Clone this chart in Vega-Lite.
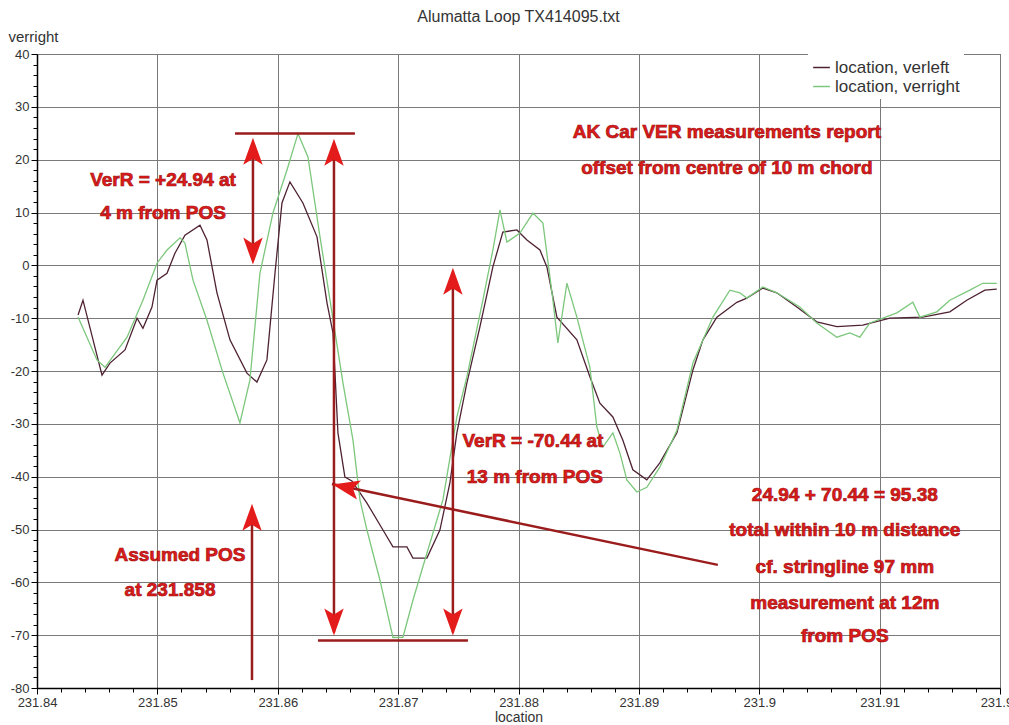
{
  "$schema": "https://vega.github.io/schema/vega-lite/v6.json",
  "width": 963,
  "height": 634,
  "autosize": {"type": "none"},
  "padding": {"left": 37, "top": 54, "right": 9, "bottom": 37},
  "background": "white",
  "title": {"text": "Alumatta Loop TX414095.txt", "fontSize": 16, "fontWeight": "normal", "font": "Liberation Sans", "color": "#333333", "anchor": "middle", "offset": 4},
  "config": {"view": {"stroke": "#333333"}, "font": "Liberation Sans"},
  "datasets": {
    "curves": [
      {"location": 231.84341, "value": -9.4, "series": "location, verleft"},
      {"location": 231.84382, "value": -6.6, "series": "location, verleft"},
      {"location": 231.8454, "value": -20.8, "series": "location, verleft"},
      {"location": 231.84606, "value": -18.5, "series": "location, verleft"},
      {"location": 231.84731, "value": -16.0, "series": "location, verleft"},
      {"location": 231.84831, "value": -10.0, "series": "location, verleft"},
      {"location": 231.8488, "value": -11.9, "series": "location, verleft"},
      {"location": 231.84955, "value": -7.9, "series": "location, verleft"},
      {"location": 231.84997, "value": -2.8, "series": "location, verleft"},
      {"location": 231.8508, "value": -1.5, "series": "location, verleft"},
      {"location": 231.85146, "value": 2.3, "series": "location, verleft"},
      {"location": 231.85229, "value": 5.7, "series": "location, verleft"},
      {"location": 231.85354, "value": 7.6, "series": "location, verleft"},
      {"location": 231.85412, "value": 4.8, "series": "location, verleft"},
      {"location": 231.85495, "value": -5.2, "series": "location, verleft"},
      {"location": 231.85603, "value": -14.1, "series": "location, verleft"},
      {"location": 231.85744, "value": -20.4, "series": "location, verleft"},
      {"location": 231.85827, "value": -22.1, "series": "location, verleft"},
      {"location": 231.8591, "value": -17.9, "series": "location, verleft"},
      {"location": 231.85977, "value": -1.5, "series": "location, verleft"},
      {"location": 231.86035, "value": 11.8, "series": "location, verleft"},
      {"location": 231.86101, "value": 15.8, "series": "location, verleft"},
      {"location": 231.86209, "value": 11.8, "series": "location, verleft"},
      {"location": 231.86326, "value": 5.4, "series": "location, verleft"},
      {"location": 231.86409, "value": -7.1, "series": "location, verleft"},
      {"location": 231.86459, "value": -12.8, "series": "location, verleft"},
      {"location": 231.865, "value": -31.7, "series": "location, verleft"},
      {"location": 231.86558, "value": -40.1, "series": "location, verleft"},
      {"location": 231.86616, "value": -40.8, "series": "location, verleft"},
      {"location": 231.86741, "value": -45.0, "series": "location, verleft"},
      {"location": 231.86874, "value": -50.1, "series": "location, verleft"},
      {"location": 231.86957, "value": -53.3, "series": "location, verleft"},
      {"location": 231.87073, "value": -53.3, "series": "location, verleft"},
      {"location": 231.87123, "value": -55.4, "series": "location, verleft"},
      {"location": 231.87239, "value": -55.4, "series": "location, verleft"},
      {"location": 231.87347, "value": -50.1, "series": "location, verleft"},
      {"location": 231.8743, "value": -41.2, "series": "location, verleft"},
      {"location": 231.87488, "value": -31.7, "series": "location, verleft"},
      {"location": 231.87571, "value": -22.3, "series": "location, verleft"},
      {"location": 231.87679, "value": -11.7, "series": "location, verleft"},
      {"location": 231.87787, "value": -0.3, "series": "location, verleft"},
      {"location": 231.8787, "value": 6.3, "series": "location, verleft"},
      {"location": 231.87987, "value": 6.7, "series": "location, verleft"},
      {"location": 231.8807, "value": 4.8, "series": "location, verleft"},
      {"location": 231.88178, "value": 2.9, "series": "location, verleft"},
      {"location": 231.88236, "value": -0.3, "series": "location, verleft"},
      {"location": 231.88319, "value": -9.8, "series": "location, verleft"},
      {"location": 231.88485, "value": -14.1, "series": "location, verleft"},
      {"location": 231.88593, "value": -21.1, "series": "location, verleft"},
      {"location": 231.88676, "value": -26.1, "series": "location, verleft"},
      {"location": 231.88784, "value": -28.7, "series": "location, verleft"},
      {"location": 231.88867, "value": -33.1, "series": "location, verleft"},
      {"location": 231.8895, "value": -38.7, "series": "location, verleft"},
      {"location": 231.89066, "value": -40.6, "series": "location, verleft"},
      {"location": 231.89174, "value": -37.4, "series": "location, verleft"},
      {"location": 231.89316, "value": -31.7, "series": "location, verleft"},
      {"location": 231.89449, "value": -19.8, "series": "location, verleft"},
      {"location": 231.89532, "value": -14.1, "series": "location, verleft"},
      {"location": 231.89648, "value": -9.8, "series": "location, verleft"},
      {"location": 231.89814, "value": -7.0, "series": "location, verleft"},
      {"location": 231.89897, "value": -6.2, "series": "location, verleft"},
      {"location": 231.9003, "value": -4.3, "series": "location, verleft"},
      {"location": 231.90146, "value": -5.2, "series": "location, verleft"},
      {"location": 231.90312, "value": -7.9, "series": "location, verleft"},
      {"location": 231.90478, "value": -10.7, "series": "location, verleft"},
      {"location": 231.90645, "value": -11.6, "series": "location, verleft"},
      {"location": 231.9086, "value": -11.3, "series": "location, verleft"},
      {"location": 231.91085, "value": -10.0, "series": "location, verleft"},
      {"location": 231.91359, "value": -9.8, "series": "location, verleft"},
      {"location": 231.91583, "value": -8.8, "series": "location, verleft"},
      {"location": 231.91724, "value": -6.6, "series": "location, verleft"},
      {"location": 231.91874, "value": -4.7, "series": "location, verleft"},
      {"location": 231.91973, "value": -4.5, "series": "location, verleft"},
      {"location": 231.84341, "value": -9.8, "series": "location, verright"},
      {"location": 231.84498, "value": -17.9, "series": "location, verright"},
      {"location": 231.84565, "value": -19.3, "series": "location, verright"},
      {"location": 231.84748, "value": -13.6, "series": "location, verright"},
      {"location": 231.8488, "value": -6.6, "series": "location, verright"},
      {"location": 231.84997, "value": 0.4, "series": "location, verright"},
      {"location": 231.8508, "value": 2.9, "series": "location, verright"},
      {"location": 231.85188, "value": 5.2, "series": "location, verright"},
      {"location": 231.85229, "value": 4.2, "series": "location, verright"},
      {"location": 231.85296, "value": -2.8, "series": "location, verright"},
      {"location": 231.85412, "value": -10.4, "series": "location, verright"},
      {"location": 231.85545, "value": -20.4, "series": "location, verright"},
      {"location": 231.85686, "value": -29.8, "series": "location, verright"},
      {"location": 231.85769, "value": -21.7, "series": "location, verright"},
      {"location": 231.85852, "value": -1.5, "series": "location, verright"},
      {"location": 231.8596, "value": 9.9, "series": "location, verright"},
      {"location": 231.86076, "value": 18.0, "series": "location, verright"},
      {"location": 231.86168, "value": 24.94, "series": "location, verright"},
      {"location": 231.86251, "value": 20.5, "series": "location, verright"},
      {"location": 231.86351, "value": 5.4, "series": "location, verright"},
      {"location": 231.86434, "value": -6.6, "series": "location, verright"},
      {"location": 231.86542, "value": -22.3, "series": "location, verright"},
      {"location": 231.86625, "value": -33.1, "series": "location, verright"},
      {"location": 231.86683, "value": -44.4, "series": "location, verright"},
      {"location": 231.86741, "value": -50.1, "series": "location, verright"},
      {"location": 231.86849, "value": -59.6, "series": "location, verright"},
      {"location": 231.86957, "value": -70.44, "series": "location, verright"},
      {"location": 231.8704, "value": -70.4, "series": "location, verright"},
      {"location": 231.87123, "value": -63.4, "series": "location, verright"},
      {"location": 231.87239, "value": -54.5, "series": "location, verright"},
      {"location": 231.87372, "value": -44.4, "series": "location, verright"},
      {"location": 231.87488, "value": -28.7, "series": "location, verright"},
      {"location": 231.87571, "value": -21.1, "series": "location, verright"},
      {"location": 231.87704, "value": -6.6, "series": "location, verright"},
      {"location": 231.87787, "value": 2.9, "series": "location, verright"},
      {"location": 231.87846, "value": 10.5, "series": "location, verright"},
      {"location": 231.87904, "value": 4.4, "series": "location, verright"},
      {"location": 231.88012, "value": 6.1, "series": "location, verright"},
      {"location": 231.8812, "value": 9.9, "series": "location, verright"},
      {"location": 231.88203, "value": 8.0, "series": "location, verright"},
      {"location": 231.88286, "value": -6.6, "series": "location, verright"},
      {"location": 231.88327, "value": -14.7, "series": "location, verright"},
      {"location": 231.88402, "value": -3.4, "series": "location, verright"},
      {"location": 231.88485, "value": -9.8, "series": "location, verright"},
      {"location": 231.88593, "value": -19.3, "series": "location, verright"},
      {"location": 231.88651, "value": -30.6, "series": "location, verright"},
      {"location": 231.88701, "value": -34.4, "series": "location, verright"},
      {"location": 231.88784, "value": -31.7, "series": "location, verright"},
      {"location": 231.88842, "value": -35.5, "series": "location, verright"},
      {"location": 231.889, "value": -40.6, "series": "location, verright"},
      {"location": 231.88983, "value": -42.9, "series": "location, verright"},
      {"location": 231.89066, "value": -42.0, "series": "location, verright"},
      {"location": 231.89174, "value": -38.2, "series": "location, verright"},
      {"location": 231.89316, "value": -31.2, "series": "location, verright"},
      {"location": 231.89449, "value": -18.5, "series": "location, verright"},
      {"location": 231.89615, "value": -9.8, "series": "location, verright"},
      {"location": 231.89756, "value": -4.7, "series": "location, verright"},
      {"location": 231.89839, "value": -5.2, "series": "location, verright"},
      {"location": 231.89897, "value": -6.2, "series": "location, verright"},
      {"location": 231.9003, "value": -4.1, "series": "location, verright"},
      {"location": 231.90146, "value": -5.2, "series": "location, verright"},
      {"location": 231.90337, "value": -7.9, "series": "location, verright"},
      {"location": 231.90478, "value": -10.9, "series": "location, verright"},
      {"location": 231.90645, "value": -13.6, "series": "location, verright"},
      {"location": 231.90752, "value": -12.8, "series": "location, verright"},
      {"location": 231.90836, "value": -13.6, "series": "location, verright"},
      {"location": 231.90919, "value": -10.9, "series": "location, verright"},
      {"location": 231.91143, "value": -9.0, "series": "location, verright"},
      {"location": 231.91276, "value": -7.0, "series": "location, verright"},
      {"location": 231.91334, "value": -9.8, "series": "location, verright"},
      {"location": 231.91475, "value": -8.8, "series": "location, verright"},
      {"location": 231.91583, "value": -6.6, "series": "location, verright"},
      {"location": 231.91749, "value": -4.7, "series": "location, verright"},
      {"location": 231.91857, "value": -3.4, "series": "location, verright"},
      {"location": 231.91973, "value": -3.4, "series": "location, verright"}
    ],
    "segments": [
      {"x": 231.85645, "y": 24.94, "x2": 231.86641, "y2": 24.94},
      {"x": 231.86334, "y": -71.0, "x2": 231.8758, "y2": -71.0},
      {"x": 231.85794, "y": 23.0, "x2": 231.85794, "y2": 1.0},
      {"x": 231.86467, "y": 23.0, "x2": 231.86467, "y2": -69.5},
      {"x": 231.87455, "y": -1.5, "x2": 231.87455, "y2": -69.5},
      {"x": 231.85786, "y": -78.5, "x2": 231.85786, "y2": -47.0},
      {"x": 231.89656, "y": -56.7, "x2": 231.8645, "y2": -41.4}
    ],
    "heads": [
      {"x": 231.85794, "y": 21.6, "direction": 0},
      {"x": 231.85794, "y": 2.7, "direction": 180},
      {"x": 231.86467, "y": 21.4, "direction": 0},
      {"x": 231.86467, "y": -67.5, "direction": 180},
      {"x": 231.87455, "y": -3.0, "direction": 0},
      {"x": 231.87455, "y": -67.5, "direction": 180},
      {"x": 231.85786, "y": -47.7, "direction": 0},
      {"x": 231.86565, "y": -42.0, "direction": 282}
    ],
    "notes": [
      {"x": 231.85047, "y": 16.15, "text": "VerR = +24.94 at"},
      {"x": 231.85047, "y": 9.9, "text": "4 m from POS"},
      {"x": 231.89731, "y": 25.2, "text": "AK Car VER measurements report"},
      {"x": 231.89731, "y": 18.4, "text": "offset from centre of 10 m chord"},
      {"x": 231.8812, "y": -33.3, "text": "VerR = -70.44 at"},
      {"x": 231.88136, "y": -40.1, "text": "13 m from POS"},
      {"x": 231.85188, "y": -54.8, "text": "Assumed POS"},
      {"x": 231.85105, "y": -61.5, "text": "at 231.858"},
      {"x": 231.90711, "y": -43.5, "text": "24.94 + 70.44 = 95.38"},
      {"x": 231.90711, "y": -50.1, "text": "total within 10 m distance"},
      {"x": 231.90711, "y": -57.1, "text": "cf. stringline 97 mm"},
      {"x": 231.90711, "y": -63.9, "text": "measurement at 12m"},
      {"x": 231.90711, "y": -70.2, "text": "from POS"}
    ]
  },
  "layer": [
    {
      "data": {"name": "curves"},
      "mark": {"type": "line", "strokeWidth": 1.3, "clip": true},
      "encoding": {
        "x": {
          "field": "location", "type": "quantitative",
          "scale": {"domain": [231.84, 231.92], "nice": false, "zero": false},
          "axis": {
            "title": "location",
            "titleFontSize": 14, "titleFontWeight": "normal", "titleColor": "#333333",
            "titleY": 22, "titleBaseline": "top",
            "tickCount": 500,
            "values": [231.84, 231.842, 231.844, 231.846, 231.848, 231.85, 231.852, 231.854, 231.856, 231.858, 231.86, 231.862, 231.864, 231.866, 231.868, 231.87, 231.872, 231.874, 231.876, 231.878, 231.88, 231.882, 231.884, 231.886, 231.888, 231.89, 231.892, 231.894, 231.896, 231.898, 231.9, 231.902, 231.904, 231.906, 231.908, 231.91, 231.912, 231.914, 231.916, 231.918, 231.92],
            "format": "~r",
            "labelExpr": "abs(datum.value*100 - round(datum.value*100)) < 0.001 ? datum.label : ''",
            "labelOverlap": false, "labelFlush": false, "labelBound": false,
            "labelFontSize": 13, "labelColor": "#333333", "labelPadding": 2,
            "domainColor": "#000000", "domainWidth": 1.5,
            "tickColor": "#000000",
            "tickSize": {"condition": {"test": "abs(datum.value*100 - round(datum.value*100)) < 0.001", "value": 6}, "value": 4},
            "grid": true, "gridColor": "#7a7a7a", "gridWidth": 1,
            "gridOpacity": {"condition": {"test": "abs(datum.value*100 - round(datum.value*100)) < 0.001", "value": 1}, "value": 0}
          }
        },
        "y": {
          "field": "value", "type": "quantitative",
          "scale": {"domain": [-80, 40], "nice": false, "zero": false},
          "axis": {
            "title": "verright",
            "titleAngle": 0, "titleAlign": "left", "titleBaseline": "middle",
            "titleX": -29, "titleY": -18,
            "titleFontSize": 15, "titleFontWeight": "normal", "titleColor": "#333333",
            "tickCount": 500,
            "values": [-80, -78, -76, -74, -72, -70, -68, -66, -64, -62, -60, -58, -56, -54, -52, -50, -48, -46, -44, -42, -40, -38, -36, -34, -32, -30, -28, -26, -24, -22, -20, -18, -16, -14, -12, -10, -8, -6, -4, -2, 0, 2, 4, 6, 8, 10, 12, 14, 16, 18, 20, 22, 24, 26, 28, 30, 32, 34, 36, 38, 40],
            "labelExpr": "datum.value % 10 === 0 ? '' + datum.value : ''",
            "labelOverlap": false, "labelFlush": false, "labelBound": false,
            "labelFontSize": 13, "labelColor": "#333333", "labelPadding": 2,
            "domainColor": "#000000", "domainWidth": 1.5,
            "tickColor": "#000000",
            "tickSize": {"condition": {"test": "datum.value % 10 === 0", "value": 6}, "value": 4},
            "grid": true, "gridColor": "#7a7a7a", "gridWidth": 1,
            "gridOpacity": {"condition": {"test": "datum.value % 10 === 0", "value": 1}, "value": 0}
          }
        },
        "color": {
          "field": "series", "type": "nominal",
          "scale": {"domain": ["location, verleft", "location, verright"], "range": ["#4e2233", "#7cc77c"]},
          "legend": {
            "title": null, "orient": "none", "legendX": 771, "legendY": 0,
            "symbolType": "stroke", "symbolStrokeWidth": 1.5, "symbolSize": 280,
            "labelFontSize": 17, "labelColor": "#333333", "rowPadding": 1,
            "fillColor": "white", "padding": 4
          }
        }
      }
    },
    {
      "data": {"name": "segments"},
      "mark": {"type": "rule", "color": "#9b1c1c", "strokeWidth": 2.5},
      "encoding": {
        "x": {"field": "x", "type": "quantitative"},
        "y": {"field": "y", "type": "quantitative"},
        "x2": {"field": "x2"},
        "y2": {"field": "y2"}
      }
    },
    {
      "data": {"name": "heads"},
      "mark": {"type": "point", "shape": "M0,-1L0.72,1L0,0.55L-0.72,1Z", "filled": true, "color": "#e41b1b", "size": 729, "opacity": 1},
      "encoding": {
        "x": {"field": "x", "type": "quantitative"},
        "y": {"field": "y", "type": "quantitative"},
        "angle": {"field": "direction", "type": "quantitative", "scale": null}
      }
    },
    {
      "data": {"name": "notes"},
      "mark": {"type": "text", "font": "Liberation Sans", "fontSize": 19, "fontWeight": "bold", "color": "#e01b1b", "stroke": "#a01010", "strokeWidth": 0.7, "align": "center", "baseline": "middle"},
      "encoding": {
        "x": {"field": "x", "type": "quantitative"},
        "y": {"field": "y", "type": "quantitative"},
        "text": {"field": "text"}
      }
    }
  ]
}
